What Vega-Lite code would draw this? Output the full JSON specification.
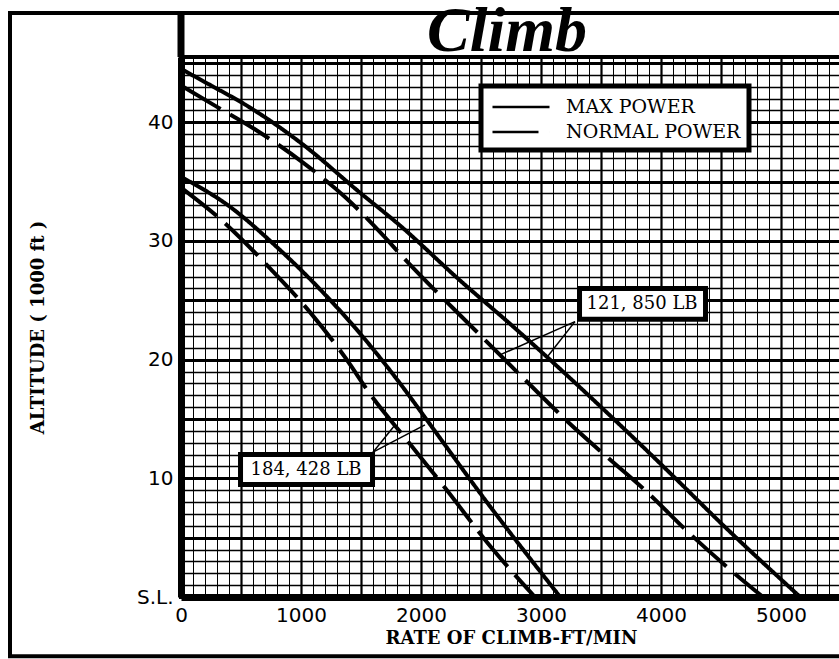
{
  "$schema": "https://vega.github.io/schema/vega-lite/v6.json",
  "autosize": {"type": "none"},
  "padding": {"left": 181, "top": 57, "right": 0, "bottom": 62},
  "width": 660,
  "height": 540,
  "background": "white",
  "title": {"text": "Climb", "font": "Liberation Serif", "fontStyle": "italic", "fontWeight": "bold", "fontSize": 64, "anchor": "middle", "dx": -4, "offset": -105, "baseline": "alphabetic", "color": "black"},
  "datasets": {
    "curves": [
      {"rate": 0, "alt": 44.5, "power": "MAX POWER", "weight": "121,850 LB"},
      {"rate": 250, "alt": 43.1, "power": "MAX POWER", "weight": "121,850 LB"},
      {"rate": 533, "alt": 41.5, "power": "MAX POWER", "weight": "121,850 LB"},
      {"rate": 1000, "alt": 38.25, "power": "MAX POWER", "weight": "121,850 LB"},
      {"rate": 1500, "alt": 34.0, "power": "MAX POWER", "weight": "121,850 LB"},
      {"rate": 1825, "alt": 31.3, "power": "MAX POWER", "weight": "121,850 LB"},
      {"rate": 2300, "alt": 26.9, "power": "MAX POWER", "weight": "121,850 LB"},
      {"rate": 2800, "alt": 22.5, "power": "MAX POWER", "weight": "121,850 LB"},
      {"rate": 3658, "alt": 14.5, "power": "MAX POWER", "weight": "121,850 LB"},
      {"rate": 4100, "alt": 10.2, "power": "MAX POWER", "weight": "121,850 LB"},
      {"rate": 4492, "alt": 6.3, "power": "MAX POWER", "weight": "121,850 LB"},
      {"rate": 5160, "alt": 0, "power": "MAX POWER", "weight": "121,850 LB"},
      {"rate": 0, "alt": 43.1, "power": "NORMAL POWER", "weight": "121,850 LB"},
      {"rate": 300, "alt": 41.3, "power": "NORMAL POWER", "weight": "121,850 LB"},
      {"rate": 625, "alt": 39.35, "power": "NORMAL POWER", "weight": "121,850 LB"},
      {"rate": 1017, "alt": 36.6, "power": "NORMAL POWER", "weight": "121,850 LB"},
      {"rate": 1367, "alt": 33.7, "power": "NORMAL POWER", "weight": "121,850 LB"},
      {"rate": 1700, "alt": 30.3, "power": "NORMAL POWER", "weight": "121,850 LB"},
      {"rate": 1825, "alt": 28.9, "power": "NORMAL POWER", "weight": "121,850 LB"},
      {"rate": 2450, "alt": 22.5, "power": "NORMAL POWER", "weight": "121,850 LB"},
      {"rate": 2867, "alt": 18.3, "power": "NORMAL POWER", "weight": "121,850 LB"},
      {"rate": 3225, "alt": 14.75, "power": "NORMAL POWER", "weight": "121,850 LB"},
      {"rate": 3550, "alt": 11.8, "power": "NORMAL POWER", "weight": "121,850 LB"},
      {"rate": 3892, "alt": 8.76, "power": "NORMAL POWER", "weight": "121,850 LB"},
      {"rate": 4225, "alt": 5.48, "power": "NORMAL POWER", "weight": "121,850 LB"},
      {"rate": 4550, "alt": 2.53, "power": "NORMAL POWER", "weight": "121,850 LB"},
      {"rate": 4850, "alt": 0, "power": "NORMAL POWER", "weight": "121,850 LB"},
      {"rate": 0, "alt": 35.4, "power": "MAX POWER", "weight": "184,428 LB"},
      {"rate": 392, "alt": 33.0, "power": "MAX POWER", "weight": "184,428 LB"},
      {"rate": 808, "alt": 29.4, "power": "MAX POWER", "weight": "184,428 LB"},
      {"rate": 1142, "alt": 26.1, "power": "MAX POWER", "weight": "184,428 LB"},
      {"rate": 1450, "alt": 22.7, "power": "MAX POWER", "weight": "184,428 LB"},
      {"rate": 1825, "alt": 18.0, "power": "MAX POWER", "weight": "184,428 LB"},
      {"rate": 2050, "alt": 14.9, "power": "MAX POWER", "weight": "184,428 LB"},
      {"rate": 2492, "alt": 8.76, "power": "MAX POWER", "weight": "184,428 LB"},
      {"rate": 3160, "alt": 0, "power": "MAX POWER", "weight": "184,428 LB"},
      {"rate": 0, "alt": 34.5, "power": "NORMAL POWER", "weight": "184,428 LB"},
      {"rate": 333, "alt": 31.8, "power": "NORMAL POWER", "weight": "184,428 LB"},
      {"rate": 750, "alt": 27.6, "power": "NORMAL POWER", "weight": "184,428 LB"},
      {"rate": 1083, "alt": 23.9, "power": "NORMAL POWER", "weight": "184,428 LB"},
      {"rate": 1367, "alt": 20.2, "power": "NORMAL POWER", "weight": "184,428 LB"},
      {"rate": 1583, "alt": 17.0, "power": "NORMAL POWER", "weight": "184,428 LB"},
      {"rate": 1892, "alt": 13.1, "power": "NORMAL POWER", "weight": "184,428 LB"},
      {"rate": 2200, "alt": 9.2, "power": "NORMAL POWER", "weight": "184,428 LB"},
      {"rate": 2600, "alt": 4.0, "power": "NORMAL POWER", "weight": "184,428 LB"},
      {"rate": 2950, "alt": 0, "power": "NORMAL POWER", "weight": "184,428 LB"}
    ],
    "arrows": [
      {"weight": "121,850 LB", "from_rate": 3283, "from_alt": 23.2, "to_rate": 2658, "to_alt": 20.4},
      {"weight": "121,850 LB", "from_rate": 3283, "from_alt": 23.2, "to_rate": 3058, "to_alt": 20.3},
      {"weight": "184,428 LB", "from_rate": 1600, "from_alt": 12.2, "to_rate": 1783, "to_alt": 14.5},
      {"weight": "184,428 LB", "from_rate": 1600, "from_alt": 12.2, "to_rate": 2033, "to_alt": 14.5}
    ],
    "labels": [
      {"text": "121, 850 LB", "rate": 3842, "alt": 24.65, "rate_lo": 3321, "rate_hi": 4371, "alt_lo": 23.4, "alt_hi": 26.0},
      {"text": "184, 428 LB", "rate": 1042, "alt": 10.7, "rate_lo": 496, "rate_hi": 1596, "alt_lo": 9.48, "alt_hi": 12.0}
    ]
  },
  "layer": [
    {
      "data": {"name": "curves"},
      "mark": {"type": "line", "strokeWidth": 4, "color": "black", "interpolate": "monotone"},
      "encoding": {
        "x": {
          "field": "rate", "type": "quantitative",
          "scale": {"domain": [0, 5500], "nice": false, "zero": false},
          "axis": {
            "title": "RATE OF CLIMB-FT/MIN",
            "values": [0,100,200,300,400,500,600,700,800,900,1000,1100,1200,1300,1400,1500,1600,1700,1800,1900,2000,2100,2200,2300,2400,2500,2600,2700,2800,2900,3000,3100,3200,3300,3400,3500,3600,3700,3800,3900,4000,4100,4200,4300,4400,4500,4600,4700,4800,4900,5000,5100,5200,5300,5400,5500],
            "tickCount": 200,
            "format": "d",
            "grid": true,
            "labelExpr": "datum.value % 1000 === 0 && datum.value <= 5000 ? datum.label : ''",
            "labelOverlap": false,
            "labelFlush": false,
            "labelPadding": 8,
            "titlePadding": 4,
            "gridWidth": {"condition": {"test": "datum.value % 500 === 0", "value": 2.2}, "value": 1}
          }
        },
        "y": {
          "field": "alt", "type": "quantitative",
          "scale": {"domain": [0, 45.5], "nice": false, "zero": false},
          "axis": {
            "title": "ALTITUDE ( 1000 ft )",
            "values": [0,1,2,3,4,5,6,7,8,9,10,11,12,13,14,15,16,17,18,19,20,21,22,23,24,25,26,27,28,29,30,31,32,33,34,35,36,37,38,39,40,41,42,43,44,45],
            "tickCount": 200,
            "format": "d",
            "grid": true,
            "labelExpr": "datum.value === 0 ? 'S.L.' : (datum.value % 10 === 0 ? datum.label : '')",
            "labelOverlap": false,
            "labelFlush": false,
            "labelPadding": 8,
            "labelBaseline": "middle",
            "titleX": -143,
            "titleY": 270,
            "titleAngle": 270,
            "titleAlign": "center",
            "titleBaseline": "middle",
            "gridWidth": {"condition": {"test": "datum.value % 5 === 0", "value": 3}, "value": 1.6}
          }
        },
        "strokeDash": {
          "field": "power", "type": "nominal",
          "scale": {"domain": ["MAX POWER", "NORMAL POWER"], "range": [[1, 0], [46, 11]]},
          "legend": {"title": null, "orient": "none", "legendX": 300, "legendY": 29}
        },
        "detail": {"field": "weight"}
      }
    },
    {
      "data": {"name": "arrows"},
      "mark": {"type": "rule", "strokeWidth": 1.5, "color": "black"},
      "encoding": {
        "x": {"field": "from_rate", "type": "quantitative"},
        "y": {"field": "from_alt", "type": "quantitative"},
        "x2": {"field": "to_rate"},
        "y2": {"field": "to_alt"}
      }
    },
    {
      "data": {"name": "labels"},
      "mark": {"type": "rect", "fill": "white", "stroke": "black", "strokeWidth": 5},
      "encoding": {
        "x": {"field": "rate_lo", "type": "quantitative"},
        "x2": {"field": "rate_hi"},
        "y": {"field": "alt_lo", "type": "quantitative"},
        "y2": {"field": "alt_hi"}
      }
    },
    {
      "data": {"name": "labels"},
      "mark": {"type": "text", "font": "DejaVu Serif", "fontSize": 18, "color": "black", "align": "center", "baseline": "middle"},
      "encoding": {
        "x": {"field": "rate", "type": "quantitative"},
        "y": {"field": "alt", "type": "quantitative"},
        "text": {"field": "text"}
      }
    },
    {
      "data": {"values": [{}]},
      "mark": {"type": "rect", "fill": "transparent", "stroke": "black", "strokeWidth": 4, "clip": false},
      "encoding": {
        "x": {"datum": -1425, "type": "quantitative"},
        "x2": {"datum": 5700},
        "y": {"datum": -5.0, "type": "quantitative"},
        "y2": {"datum": 49.2}
      }
    },
    {
      "data": {"values": [{}]},
      "mark": {"type": "rule", "stroke": "black", "strokeWidth": 7, "clip": false},
      "encoding": {
        "x": {"datum": 0, "type": "quantitative"},
        "y": {"datum": 45.5, "type": "quantitative"},
        "y2": {"datum": 49.2}
      }
    }
  ],
  "config": {
    "view": {"stroke": "black", "strokeWidth": 4, "fill": "white"},
    "axis": {
      "domainColor": "black", "domainWidth": 7,
      "gridColor": "black", "gridOpacity": 1,
      "ticks": false,
      "labelColor": "black", "labelFont": "DejaVu Sans", "labelFontSize": 20,
      "titleColor": "black", "titleFont": "DejaVu Serif", "titleFontWeight": "bold", "titleFontSize": 18
    },
    "legend": {
      "fillColor": "white", "strokeColor": "black", "strokeWidth": 5,
      "padding": 8,
      "labelFont": "DejaVu Serif", "labelFontSize": 19, "labelColor": "black", "labelLimit": 0,
      "labelOffset": 32,
      "symbolOffset": 19,
      "symbolType": "M-2.5,0H2.5", "symbolSize": 520, "symbolStrokeWidth": 2.5, "symbolStrokeColor": "black",
      "rowPadding": 2
    }
  }
}
